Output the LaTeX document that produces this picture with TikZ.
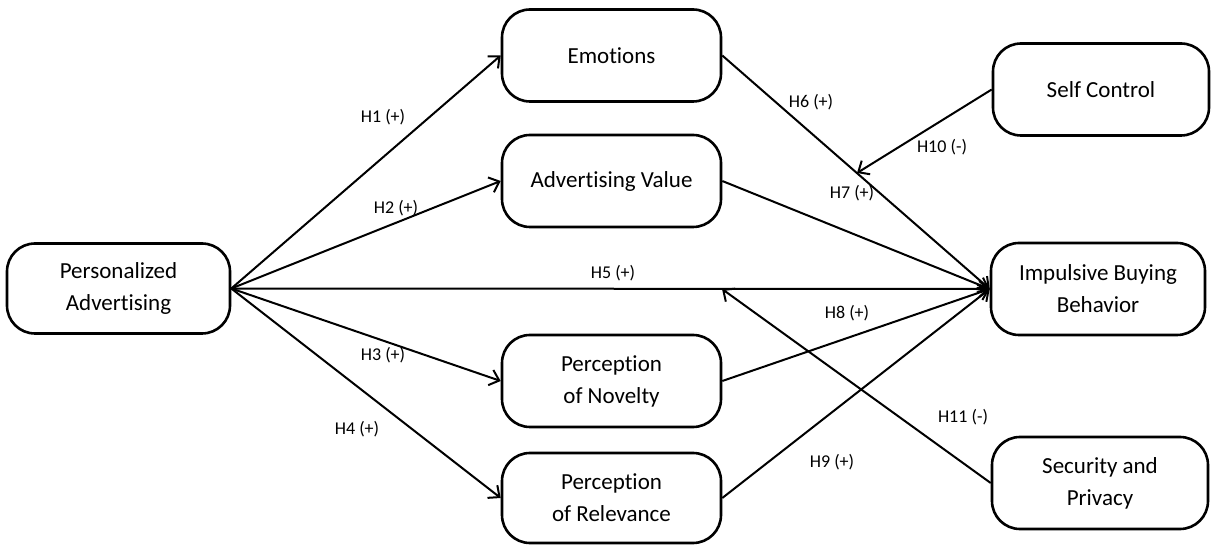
\documentclass[tikz,border=0pt]{standalone}
\usepackage{fontspec}
\setmainfont{Carlito}[Ligatures={NoCommon}]
\usetikzlibrary{arrows.meta}

\begin{document}
\begin{tikzpicture}[x=0.5pt, y=-0.5pt, line width=1pt, -{Straight Barb[length=4.5pt,width=8pt]},
	construct/.style={draw, -, line width=1.3pt, rounded corners=14pt, align=center, minimum width=109.5pt, minimum height=46pt, font=\fontsize{11.5}{16}\selectfont},
	hyp/.style={font=\fontsize{9}{11}\selectfont}]
	\useasboundingbox (0,0) rectangle (1212,545);
	\node[construct, minimum width=111.5pt, minimum height=45pt] (pa) at (118.5,288.5) {Personalized\\Advertising};
	\node[construct] (emo) at (611.5,55.5) {Emotions};
	\node[construct] (adv) at (611.5,181) {Advertising Value};
	\node[construct] (nov) at (611.5,381) {Perception\\of Novelty};
	\node[construct, minimum height=45pt] (rel) at (611.5,498) {Perception\\of Relevance};
	\node[construct, minimum width=108pt] (sc) at (1101,89.5) {Self Control};
	\node[construct, minimum width=107pt] (ibb) at (1098,289) {Impulsive Buying\\Behavior};
	\node[construct, minimum width=108pt] (sp) at (1100,483) {Security and\\Privacy};
	\coordinate (h10end) at (857,173);
	\coordinate (h11end) at (722,289);
	\draw (pa.east) -- (emo.west);
	\draw (pa.east) -- (adv.west);
	\draw (pa.east) -- (ibb.west);
	\draw (pa.east) -- (nov.west);
	\draw (pa.east) -- (rel.west);
	\draw (emo.east) -- (ibb.west);
	\draw (adv.east) -- (ibb.west);
	\draw (nov.east) -- (ibb.west);
	\draw (rel.east) -- (ibb.west);
	\draw (sc.west) -- (h10end);
	\draw (sp.west) -- (h11end);
	\node[hyp] (h1) at (383,117) {H1 (+)};
	\node[hyp] (h2) at (396,208) {H2 (+)};
	\node[hyp] (h3) at (383,355) {H3 (+)};
	\node[hyp] (h4) at (357,429) {H4 (+)};
	\node[hyp] (h5) at (613,273) {H5 (+)};
	\node[hyp] (h6) at (811,102) {H6 (+)};
	\node[hyp] (h7) at (852,193) {H7 (+)};
	\node[hyp] (h8) at (847,313) {H8 (+)};
	\node[hyp] (h9) at (832,462) {H9 (+)};
	\node[hyp] (h10) at (942,147) {H10 (-)};
	\node[hyp] (h11) at (963,417) {H11 (-)};
\end{tikzpicture}
\end{document}
